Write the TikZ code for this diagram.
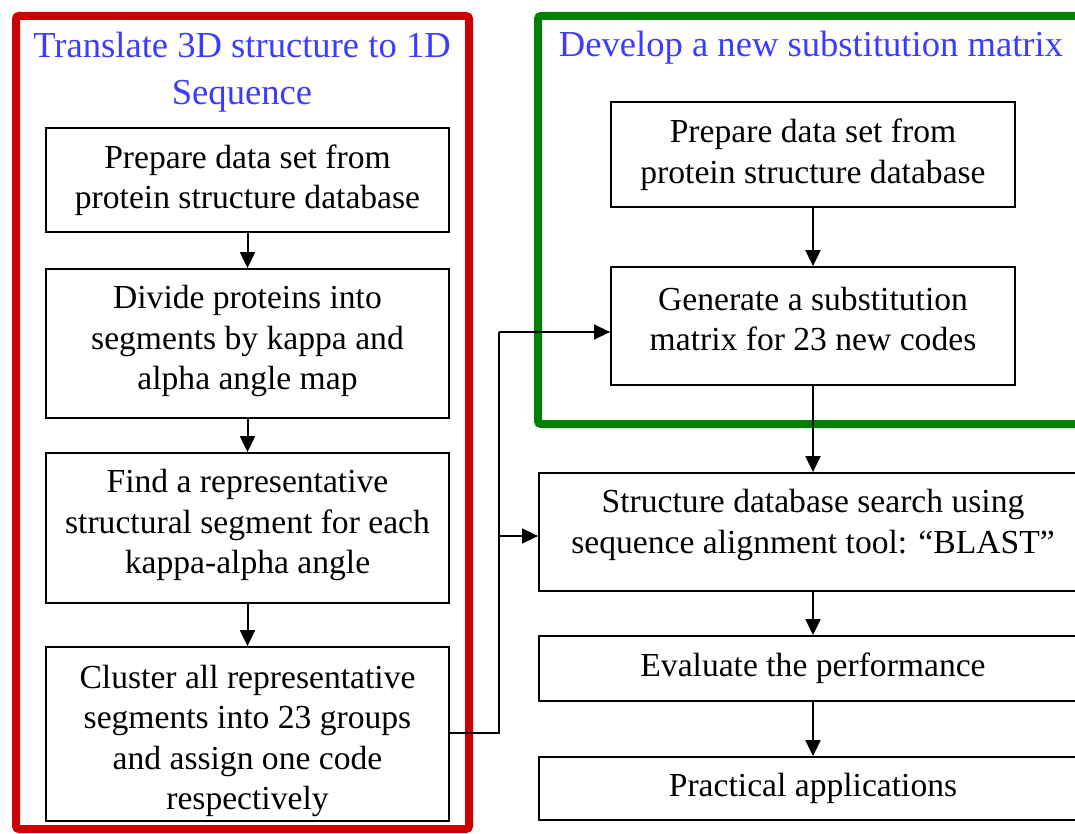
\documentclass[tikz,border=0pt]{standalone}
\usepackage{fontspec}
\setmainfont{Liberation Serif}
\usetikzlibrary{arrows.meta}
\definecolor{framered}{RGB}{204,0,0}
\definecolor{framegreen}{RGB}{0,128,0}
\definecolor{titleblue}{RGB}{60,60,255}
\tikzset{
  stepbox/.style={draw, line width=1.8pt, inner sep=0pt},
  steptext/.style={align=center, inner sep=0pt,
    font=\fontsize{33.6}{40.5}\selectfont},
  frame/.style={line width=8pt, rounded corners=3pt},
  title/.style={text=titleblue, align=center, font=\fontsize{36.6}{47}\selectfont},
  flow/.style={line width=2pt, -{Triangle[width=15pt,length=16pt]}},
  link/.style={line width=1.5pt, -{Triangle[width=15pt,length=16pt]}}
}
\begin{document}
\begin{tikzpicture}[x=1pt, y=-1pt]
  \useasboundingbox (0,0) rectangle (1075,834);
  \clip (0,0) rectangle (1075,834);

  % group frames
  \draw[frame, framered] (16,16) rectangle (469,829);
  \draw[frame, framegreen] (538,16) rectangle (1100,424);

  % group titles
  \node[title] (t1) at (242,72) {Translate 3D structure to 1D\\Sequence};
  \node[title] (t2) at (811,48) {Develop a new substitution matrix};

  % left column: boxes
  \node[stepbox, minimum width=403pt, minimum height=104pt] (b1) at (247.5,180) {};
  \node[stepbox, minimum width=403pt, minimum height=149pt] (b2) at (247.5,343.5) {};
  \node[stepbox, minimum width=403pt, minimum height=150pt] (b3) at (247.5,528) {};
  \node[stepbox, minimum width=403pt, minimum height=174pt] (b4) at (247.5,734) {};
  % left column: texts
  \node[steptext] (b1t) at (247.5,180) {Prepare data set from\\protein structure database};
  \node[steptext] (b2t) at (247.5,341) {Divide proteins into\\segments by kappa and\\alpha angle map};
  \node[steptext] (b3t) at (247.5,525) {Find a representative\\structural segment for each\\kappa-alpha angle};
  \node[steptext] (b4t) at (247.5,741) {Cluster all representative\\segments into 23 groups\\and assign one code\\respectively};

  % right column: boxes
  \node[stepbox, minimum width=404pt, minimum height=105pt] (r1) at (813,154.5) {};
  \node[stepbox, minimum width=404pt, minimum height=118pt] (r2) at (813,326) {};
  \node[stepbox, minimum width=548pt, minimum height=118pt] (r3) at (813,532) {};
  \node[stepbox, minimum width=548pt, minimum height=65pt] (r4) at (813,668.5) {};
  \node[stepbox, minimum width=548pt, minimum height=63pt] (r5) at (813,788.5) {};
  % right column: texts
  \node[steptext] (r1t) at (813,154.5) {Prepare data set from\\protein structure database};
  \node[steptext] (r2t) at (813,319) {Generate a substitution\\matrix for 23 new codes};
  \node[steptext] (r3t) at (813,525) {Structure database search using\\sequence alignment tool: “BLAST”};
  \node[steptext] (r4t) at (813,668.5) {Evaluate the performance};
  \node[steptext] (r5t) at (813,788.5) {Practical applications};

  % vertical flow
  \draw[flow] (b1.south) -- (b2.north);
  \draw[flow] (b2.south) -- (b3.north);
  \draw[flow] (b3.south) -- (b4.north);
  \draw[flow] (r1.south) -- (r2.north);
  \draw[flow] (r2.south) -- (r3.north);
  \draw[flow] (r3.south) -- (r4.north);
  \draw[flow] (r4.south) -- (r5.north);

  % codes feed the matrix and the search
  \coordinate (j) at (499,733);
  \coordinate (jt) at (499,332);
  \coordinate (jm) at (499,536);
  \draw[line width=1.5pt] (b4.east |- j) -- (j) -- (jt);
  \draw[link] (jt) -- (r2.west |- jt);
  \draw[link] (jm) -- (r3.west |- jm);
\end{tikzpicture}
\end{document}
